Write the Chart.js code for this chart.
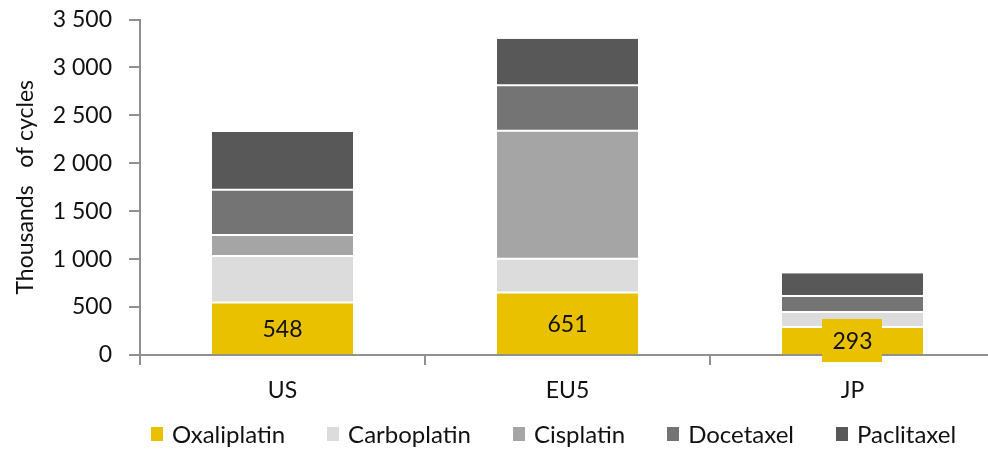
<!DOCTYPE html>
<html>
<head>
<meta charset="utf-8">
<script src="https://cdn.jsdelivr.net/npm/chart.js@4/dist/chart.umd.min.js"></script>
<style>
  html, body { margin: 0; padding: 0; background: #ffffff; overflow: hidden; }
  #wrap { width: 1000px; height: 449px; }
</style>
</head>
<body>
<div id="wrap"><canvas id="chart" width="1000" height="449"></canvas></div>
<script>
// Regions on the x axis
const regions = ['US', 'EU5', 'JP'];

// Thousands of treatment cycles per drug and region
const oxaliplatin = [548, 651, 293];
const carboplatin = [485, 354, 156];
const cisplatin   = [219, 1335, 0];
const docetaxel   = [472, 473, 166];
const paclitaxel  = [602, 487, 237];

const seriesNames = ['Oxaliplatin', 'Carboplatin', 'Cisplatin', 'Docetaxel', 'Paclitaxel'];
const seriesValues = [oxaliplatin, carboplatin, cisplatin, docetaxel, paclitaxel];
const seriesColours = ['#EAC100', '#DCDCDC', '#A5A5A5', '#747474', '#585858'];

// Value axis ticks
const yTicks = [0, 500, 1000, 1500, 2000, 2500, 3000, 3500];

const FONT = 'Lato, "Liberation Sans", Arial, sans-serif';
const TEXT = '#111111';
const AXIS = '#909090';

// Space as thousands separator: 3 500
const fmt = v => String(v).replace(/\B(?=(\d{3})+(?!\d))/g, ' ');

// Value labels centred in the segments of one series; a filled box when the segment is too short
const valueLabels = {
  id: 'valueLabels',
  afterDraw(chart, args, o) {
    const ctx = chart.ctx;
    const ds = chart.data.datasets[o.datasetIndex];
    const meta = chart.getDatasetMeta(o.datasetIndex);
    ctx.save();
    ctx.font = `${o.size}px ${FONT}`;
    ctx.textAlign = 'center';
    ctx.textBaseline = 'middle';
    meta.data.forEach((bar, i) => {
      const text = fmt(ds.data[i]);
      const cx = bar.x;
      const cy = (bar.y + bar.base) / 2;
      const w = ctx.measureText(text).width;
      const segH = Math.abs(bar.base - bar.y);
      if (segH < o.size + 2 * o.pad) {
        const bw = w + 2 * o.pad, bh = o.size + 2 * o.pad;
        ctx.fillStyle = ds.backgroundColor;
        ctx.fillRect(Math.round(cx - bw / 2), Math.round(cy - bh / 2), Math.round(bw), Math.round(bh));
      }
      ctx.fillStyle = TEXT;
      ctx.fillText(text, cx, cy + 1);
    });
    ctx.restore();
  }
};

// One-row legend under the axis
const legendRow = {
  id: 'legendRow',
  afterDraw(chart, args, o) {
    const ctx = chart.ctx;
    ctx.save();
    ctx.font = `${o.size}px ${FONT}`;
    ctx.textBaseline = 'middle';
    ctx.textAlign = 'left';
    const items = chart.data.datasets.map(ds => ({
      label: ds.label, colour: ds.backgroundColor, w: ctx.measureText(ds.label).width
    }));
    const total = items.reduce((s, it) => s + o.boxW + o.textGap + it.w, 0) + o.itemGap * (items.length - 1);
    let x = o.centerX - total / 2;
    items.forEach(it => {
      ctx.fillStyle = it.colour;
      ctx.fillRect(Math.round(x), Math.round(o.y - o.boxH / 2), o.boxW, o.boxH);
      x += o.boxW + o.textGap;
      ctx.fillStyle = TEXT;
      ctx.fillText(it.label, x, o.y + 1);
      x += it.w + o.itemGap;
    });
    ctx.restore();
  }
};

const lastSeries = seriesNames.length - 1;

new Chart(document.getElementById('chart'), {
  type: 'bar',
  data: {
    labels: regions,
    datasets: seriesNames.map((name, i) => ({
      label: name,
      data: seriesValues[i],
      backgroundColor: seriesColours[i],
      borderColor: '#ffffff',
      // thin white separators split between neighbouring segments
      borderWidth: { top: i === lastSeries ? 0 : 1, bottom: i === 0 ? 0 : 1, left: 0, right: 0 },
      borderSkipped: false,
      barPercentage: 0.495,
      categoryPercentage: 1
    }))
  },
  options: {
    responsive: false,
    animation: false,
    devicePixelRatio: 1,
    layout: { padding: { top: 19.5, right: 5, bottom: 39, left: 0 } },
    plugins: {
      legend: { display: false },
      tooltip: { enabled: false },
      valueLabels: { datasetIndex: 0, size: 23, pad: 10 },
      legendRow: { size: 24, boxW: 12, boxH: 14, textGap: 9, itemGap: 42, centerX: 553.5, y: 434 }
    },
    scales: {
      x: {
        stacked: true,
        z: 1,
        clip: false,
        grid: { offset: true, drawOnChartArea: false, drawTicks: true, tickLength: 10, color: AXIS, lineWidth: 2 },
        border: { display: true, color: AXIS, width: 2 },
        ticks: { color: TEXT, font: { family: FONT, size: 23 }, padding: 12 },
        afterFit(scale) { scale.height = 55; scale.paddingLeft = 0; scale.paddingRight = 0; }
      },
      y: {
        stacked: true,
        min: 0,
        max: 3500,
        clip: false,
        afterBuildTicks(scale) { scale.ticks = yTicks.map(v => ({ value: v })); },
        grid: { drawOnChartArea: false, drawTicks: true, tickLength: 11, color: AXIS, lineWidth: 2 },
        border: { display: true, color: AXIS, width: 2 },
        ticks: { color: TEXT, font: { family: FONT, size: 23 }, padding: 17, callback: v => fmt(v) },
        title: {
          display: true,
          text: 'Thousands   of cycles',
          color: TEXT,
          font: { family: FONT, size: 23 },
          padding: { top: 12, bottom: 0 }
        },
        afterFit(scale) { scale.width = 140; scale.paddingTop = 0; scale.paddingBottom = 0; }
      }
    }
  },
  plugins: [valueLabels, legendRow]
});
</script>
</body>
</html>
